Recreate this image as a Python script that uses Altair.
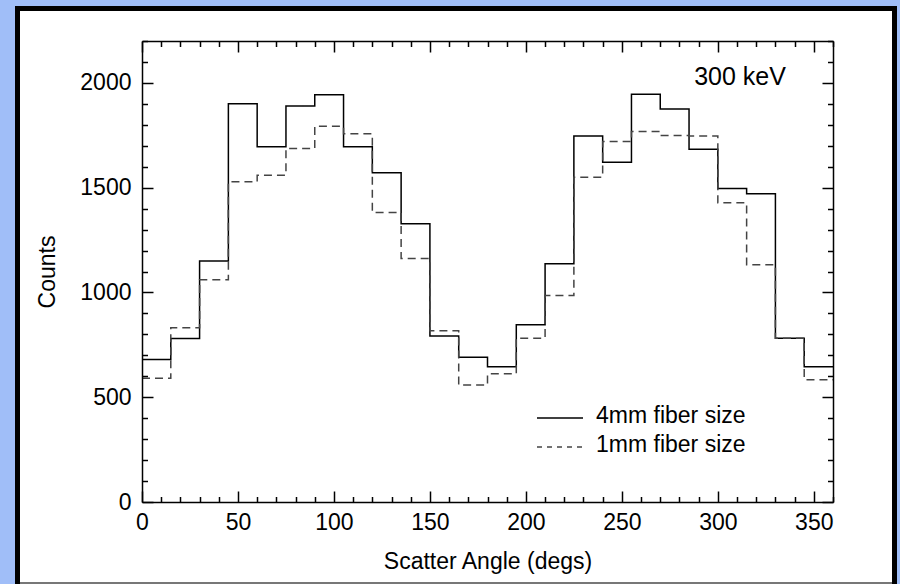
import altair as alt
import pandas as pd

# ---- data ----
bin_starts = [0, 15, 30, 45, 60, 75, 90, 105, 120, 135, 150, 165,
              180, 195, 210, 225, 240, 255, 270, 285, 300, 315, 330, 345]
bin_end = 360
counts_4mm = [680, 780, 1150, 1900, 1695, 1890, 1943, 1695, 1571, 1328, 792, 691,
              646, 846, 1137, 1747, 1621, 1946, 1876, 1684, 1496, 1471, 781, 646]
counts_1mm = [590, 832, 1061, 1528, 1559, 1687, 1793, 1757, 1381, 1162, 817, 558,
              612, 782, 986, 1550, 1720, 1768, 1749, 1747, 1428, 1132, 782, 584]
series_names = ["4mm fiber size", "1mm fiber size"]
annotation = ["300 keV"]

x_major = [0, 50, 100, 150, 200, 250, 300, 350]
x_minor = [v for v in range(0, 361, 10) if v % 50]
y_major = [0, 500, 1000, 1500, 2000]
y_minor = [v for v in range(0, 2201, 100) if v % 500]

rows = []
for name, vals in zip(series_names, [counts_4mm, counts_1mm]):
    for a, c in zip(bin_starts, vals):
        rows.append({"angle": a, "count": c, "series": name})
    rows.append({"angle": bin_end, "count": vals[-1], "series": name})
df = pd.DataFrame(rows)

W, H = 691, 461
FONT = "Liberation Sans"

x_scale = alt.Scale(domain=[0, 360], nice=False, zero=False)
y_scale = alt.Scale(domain=[0, 2200], nice=False, zero=False)

frame = alt.Chart(pd.DataFrame({"k": [0]})).mark_rect(
    fill="white", stroke="black", strokeWidth=5
).encode(x=alt.value(-124.5), x2=alt.value(752.5), y=alt.value(-32.5), y2=alt.value(600))

bottom_line = alt.Chart(pd.DataFrame({"k": [0]})).mark_rule(
    color="#777777", strokeWidth=2
).encode(x=alt.value(-122), x2=alt.value(750), y=alt.value(542))

# ---- histogram lines ----
lines = alt.Chart(df).mark_line(interpolate="step-after", strokeWidth=1.5).encode(
    x=alt.X("angle:Q", scale=x_scale,
            axis=alt.Axis(orient="bottom", title="Scatter Angle (degs)", values=x_major,
                          format="d", ticks=False, tickSize=0, domain=False, grid=False,
                          labelFlush=False, labelOverlap=False, labelPadding=9,
                          titlePadding=16, zindex=1)),
    y=alt.Y("count:Q", scale=y_scale,
            axis=alt.Axis(orient="left", title="Counts", values=y_major, format="d",
                          ticks=False, tickSize=0, domain=False, grid=False,
                          labelFlush=False, labelOverlap=False, labelPadding=11,
                          titlePadding=20, zindex=1)),
    color=alt.Color("series:N", scale=alt.Scale(domain=series_names, range=["black", "#444444"]),
                    legend=None),
    strokeDash=alt.StrokeDash(
        "series:N",
        scale=alt.Scale(domain=series_names, range=[[1, 0], [8, 5]]),
        legend=None,
    ),
    order=alt.Order("angle:Q"),
)

label = alt.Chart(pd.DataFrame({"text": annotation})).mark_text(
    font=FONT, fontSize=25, color="black", align="center", baseline="middle"
).encode(text="text:N", x=alt.value(598), y=alt.value(36))

# ---- in-plot legend ----
key_solid = alt.Chart(pd.DataFrame({"k": [0]})).mark_rule(
    color="black", strokeWidth=1.5
).encode(x=alt.value(395), x2=alt.value(441), y=alt.value(377))
key_dash = alt.Chart(pd.DataFrame({"k": [0]})).mark_rule(
    color="#444444", strokeWidth=1.5, strokeDash=[5, 5]
).encode(x=alt.value(395), x2=alt.value(441), y=alt.value(406))
key_text1 = alt.Chart(pd.DataFrame({"label": [series_names[0]]})).mark_text(
    font=FONT, fontSize=23, color="black", align="left", baseline="middle"
).encode(text="label:N", x=alt.value(454), y=alt.value(375))
key_text2 = alt.Chart(pd.DataFrame({"label": [series_names[1]]})).mark_text(
    font=FONT, fontSize=23, color="black", align="left", baseline="middle"
).encode(text="label:N", x=alt.value(454), y=alt.value(404))


# ---- inward tick axes (mirrored on all four sides) ----
def tick_layer(x_orient, y_orient, xv, yv, size, dom):
    return alt.Chart(df).mark_point(opacity=0, size=1).encode(
        x=alt.X("angle:Q", scale=x_scale,
                axis=alt.Axis(orient=x_orient, offset=-H, values=xv, tickSize=size,
                              labels=False, domain=dom, grid=False, title=None, zindex=1)),
        y=alt.Y("count:Q", scale=y_scale,
                axis=alt.Axis(orient=y_orient, offset=-W, values=yv, tickSize=size,
                              labels=False, domain=dom, grid=False, title=None, zindex=1)),
    )


t1 = tick_layer("top", "right", x_major, y_major, 11, True)
t2 = tick_layer("top", "right", x_minor, y_minor, 5.5, False)
t3 = tick_layer("bottom", "left", x_major, y_major, 11, True)
t4 = tick_layer("bottom", "left", x_minor, y_minor, 5.5, False)

chart = alt.layer(frame, bottom_line, lines, label, key_solid, key_dash, key_text1,
                  key_text2, t1, t2, t3, t4).resolve_scale(
    x="independent", y="independent"
).resolve_axis(
    x="independent", y="independent"
).properties(
    width=W, height=H, autosize="none",
    padding={"left": 142, "top": 41, "right": 67, "bottom": 82},
    background="#a0bef8",
).configure_view(
    strokeWidth=0
).configure_axis(
    labelFont=FONT, titleFont=FONT, labelFontSize=23, titleFontSize=23,
    labelColor="black", titleColor="black", tickColor="black", tickWidth=1.5,
    domainColor="black", domainWidth=1.5,
    titleFontWeight="normal", grid=False,
)

chart.save("out.html", embed_options={"renderer": "svg", "actions": False})
